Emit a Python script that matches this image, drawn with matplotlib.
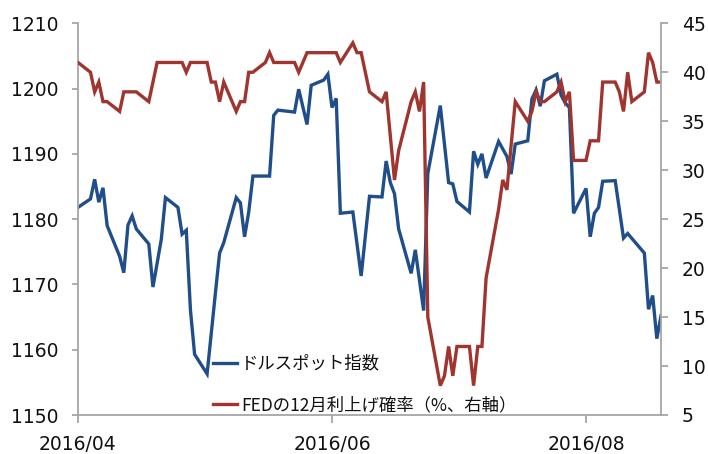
import matplotlib
matplotlib.use("Agg")
import matplotlib.pyplot as plt
import matplotlib.dates as mdates
import pandas as pd

# ---- data ----
usd_dates = ["2016-04-01", "2016-04-04", "2016-04-05", "2016-04-06", "2016-04-07", "2016-04-08",
             "2016-04-11", "2016-04-12", "2016-04-13", "2016-04-14", "2016-04-15", "2016-04-18",
             "2016-04-19", "2016-04-21", "2016-04-22", "2016-04-25", "2016-04-26", "2016-04-27",
             "2016-04-28", "2016-04-29", "2016-05-02", "2016-05-04", "2016-05-05", "2016-05-06",
             "2016-05-09", "2016-05-10", "2016-05-11", "2016-05-12", "2016-05-13", "2016-05-17",
             "2016-05-18", "2016-05-19", "2016-05-23", "2016-05-24", "2016-05-26", "2016-05-27",
             "2016-05-30", "2016-05-31", "2016-06-01", "2016-06-02", "2016-06-03", "2016-06-06",
             "2016-06-08", "2016-06-10", "2016-06-13", "2016-06-14", "2016-06-15", "2016-06-16",
             "2016-06-17", "2016-06-20", "2016-06-21", "2016-06-23", "2016-06-24", "2016-06-27",
             "2016-06-29", "2016-06-30", "2016-07-01", "2016-07-04", "2016-07-05", "2016-07-06",
             "2016-07-07", "2016-07-08", "2016-07-11", "2016-07-13", "2016-07-14", "2016-07-15",
             "2016-07-18", "2016-07-19", "2016-07-20", "2016-07-21", "2016-07-22", "2016-07-25",
             "2016-07-26", "2016-07-27", "2016-07-28", "2016-07-29", "2016-08-01", "2016-08-02",
             "2016-08-03", "2016-08-04", "2016-08-05", "2016-08-08", "2016-08-10", "2016-08-11",
             "2016-08-15", "2016-08-16", "2016-08-17", "2016-08-18", "2016-08-19"]
usd_values = [1181.8, 1183.1, 1186.1, 1182.6, 1184.8, 1179.0,
              1174.3, 1171.8, 1179.1, 1180.5, 1178.5, 1176.2,
              1169.6, 1176.9, 1183.3, 1181.8, 1177.7, 1178.3,
              1166.1, 1159.3, 1156.3, 1168.7, 1174.8, 1176.4,
              1183.3, 1182.5, 1177.3, 1181.1, 1186.6, 1186.6,
              1195.9, 1196.7, 1196.4, 1199.9, 1194.5, 1200.5,
              1201.3, 1202.2, 1197.1, 1198.5, 1180.9, 1181.1,
              1171.3, 1183.5, 1183.4, 1188.9, 1185.6, 1183.9,
              1178.5, 1171.7, 1175.3, 1166.0, 1187.0, 1197.4,
              1185.6, 1185.4, 1182.7, 1181.1, 1190.4, 1188.4,
              1190.0, 1186.3, 1191.9, 1189.6, 1186.9, 1191.5,
              1192.0, 1198.4, 1199.8, 1197.3, 1201.2, 1202.2,
              1199.0, 1197.8, 1197.1, 1180.9, 1184.7, 1177.3,
              1180.9, 1181.8, 1185.8, 1185.9, 1177.1, 1177.8,
              1174.8, 1166.2, 1168.3, 1161.7, 1165.2]

fed_dates = ["2016-04-01", "2016-04-04", "2016-04-05", "2016-04-06", "2016-04-07", "2016-04-08",
             "2016-04-11", "2016-04-12", "2016-04-15", "2016-04-18", "2016-04-20", "2016-04-26",
             "2016-04-27", "2016-04-28", "2016-05-02", "2016-05-03", "2016-05-04", "2016-05-05",
             "2016-05-06", "2016-05-09", "2016-05-10", "2016-05-11", "2016-05-12", "2016-05-13",
             "2016-05-16", "2016-05-17", "2016-05-18", "2016-05-23", "2016-05-24", "2016-05-26",
             "2016-06-02", "2016-06-03", "2016-06-06", "2016-06-07", "2016-06-08", "2016-06-10",
             "2016-06-13", "2016-06-14", "2016-06-16", "2016-06-17", "2016-06-20", "2016-06-21",
             "2016-06-22", "2016-06-23", "2016-06-24", "2016-06-27", "2016-06-28", "2016-06-29",
             "2016-06-30", "2016-07-01", "2016-07-04", "2016-07-05", "2016-07-06", "2016-07-07",
             "2016-07-08", "2016-07-11", "2016-07-12", "2016-07-13", "2016-07-15", "2016-07-18",
             "2016-07-19", "2016-07-20", "2016-07-21", "2016-07-22", "2016-07-25", "2016-07-26",
             "2016-07-27", "2016-07-28", "2016-07-29", "2016-08-01", "2016-08-02", "2016-08-04",
             "2016-08-05", "2016-08-08", "2016-08-09", "2016-08-10", "2016-08-11", "2016-08-12",
             "2016-08-15", "2016-08-16", "2016-08-17", "2016-08-18", "2016-08-19"]
fed_values = [41, 40, 38, 39, 37, 37,
              36, 38, 38, 37, 41, 41,
              40, 41, 41, 39, 39, 37,
              39, 36, 37, 37, 40, 40,
              41, 42, 41, 41, 40, 42,
              42, 41, 43, 42, 42, 38,
              37, 38, 29, 32, 37, 38,
              36, 39, 15, 8, 9, 12,
              9, 12, 12, 8, 12, 12,
              19, 26, 29, 28, 37, 35,
              36, 38, 37, 37, 38, 39,
              37, 38, 31, 31, 33, 33,
              39, 39, 38, 36, 40, 37,
              38, 42, 41, 39, 39]

x_ticks = ["2016-04-01", "2016-06-01", "2016-08-01"]
x_range = ["2016-04-01", "2016-08-19"]
usd_label = "ドルスポット指数"
fed_label = "FEDの12月利上げ確率（%、右軸）"

# ---- plot ----
blue = "#1f4e8a"
red = "#a0342f"
spine_c = "#a6a6a6"

fig = plt.figure(figsize=(7.08, 4.54), dpi=100)
ax = fig.add_axes([78 / 708, 1 - 415 / 454, (661 - 78) / 708, (415 - 23.3) / 454])
ax2 = ax.twinx()

l1, = ax.plot(pd.to_datetime(usd_dates), usd_values, color=blue, lw=2.4,
              solid_joinstyle="miter", label=usd_label)
l2, = ax2.plot(pd.to_datetime(fed_dates), fed_values, color=red, lw=2.4,
               solid_joinstyle="miter", label=fed_label)

ax.set_xlim(pd.to_datetime(x_range[0]), pd.to_datetime(x_range[1]))
ax.set_ylim(1150, 1210)
ax.set_yticks(range(1150, 1211, 10))
ax2.set_ylim(5, 45)
ax2.set_yticks(range(5, 46, 5))
ax.set_xticks(pd.to_datetime(x_ticks))
ax.xaxis.set_major_formatter(mdates.DateFormatter("%Y/%m"))

for a in (ax, ax2):
    a.spines["top"].set_visible(False)
    for s in ("left", "right", "bottom"):
        a.spines[s].set_color(spine_c)
        a.spines[s].set_linewidth(1.3)
ax.spines["right"].set_visible(False)
ax2.spines["left"].set_visible(False)
ax2.spines["bottom"].set_visible(False)

ax.tick_params(axis="y", direction="out", length=4.3, width=1.3, color=spine_c,
               labelsize=13.5, pad=10, labelcolor="#111111")
ax.tick_params(axis="x", direction="out", length=5.8, width=1.3, color=spine_c,
               labelsize=13.5, pad=8.5, labelcolor="#111111")
ax2.tick_params(axis="y", direction="out", length=5, width=1.3, color=spine_c,
                labelsize=13.5, pad=10, labelcolor="#111111")
for lab in ax.get_xticklabels() + ax.get_yticklabels() + ax2.get_yticklabels():
    lab.set_family("DejaVu Sans")

leg = ax2.legend(handles=[l1, l2], loc="upper left",
                 bbox_to_anchor=(204 / 708, 1 - 346 / 454), bbox_transform=fig.transFigure,
                 frameon=False, borderpad=0, handlelength=1.4, handletextpad=0.25,
                 labelspacing=1.35,
                 prop={"family": ["Noto Sans CJK JP", "DejaVu Sans"], "size": 12.5})
for t in leg.get_texts():
    t.set_color("#111111")

fig.savefig("out.png", dpi=100)
